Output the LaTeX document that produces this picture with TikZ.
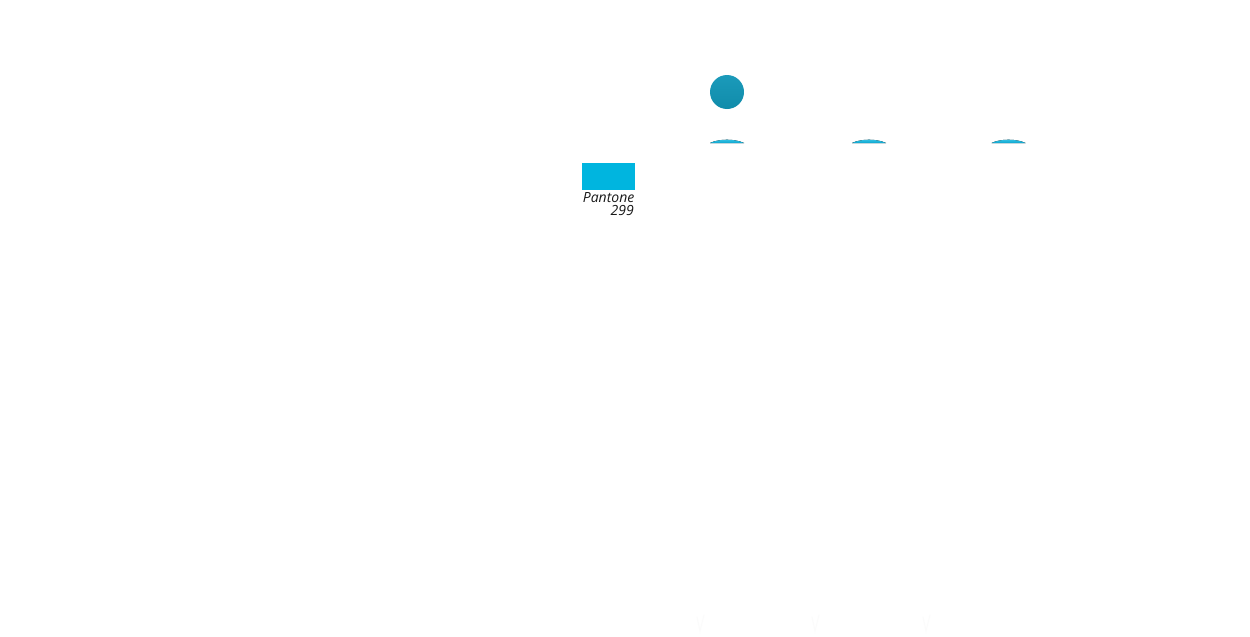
\documentclass[tikz,border=0pt]{standalone}
\usepackage{fontspec}
\setmainfont{Open Sans}
\definecolor{balltop}{HTML}{1B9ABA}
\definecolor{ballbot}{HTML}{108CAA}
\definecolor{lenstop}{HTML}{3EC6E8}
\definecolor{lensbot}{HTML}{0AA6CF}
\definecolor{pantone}{HTML}{00B5DF}
\definecolor{ghost}{HTML}{FBFBFB}
\tikzset{
  ball/.style={circle, minimum size=34pt, inner sep=0pt, top color=balltop, bottom color=ballbot, draw=none},
  lens/.style={top color=lenstop, bottom color=lensbot, draw=none},
  swatch/.style={fill=pantone, draw=none},
  lbl/.style={font=\fontsize{14}{16}\selectfont\itshape, inner sep=0pt, text=black!90},
  ghostmark/.style={draw=ghost, line width=1pt, line cap=round}
}
\begin{document}
\begin{tikzpicture}[x=1pt,y=-1pt]
\useasboundingbox[fill=white] (0,0) rectangle (1250,637);
% ball
\node[ball] (b) at (727,92) {};
% lenses
\foreach \cx/\nm in {727/l1, 869/l2, 1008.5/l3}{
  \fill[lens] (\cx-17,143) .. controls (\cx-8,138.6) and (\cx+8,138.6) .. (\cx+17,143) -- cycle;
  \coordinate (\nm) at (\cx,141);
}
% swatch
\fill[swatch] (582,163) rectangle (634.5,189.5);
\node[lbl, anchor=base east] (p1) at (634.5,202) {Pantone};
\node[lbl, anchor=base east] (p2) at (634,215) {299};
% faint marks at bottom
\foreach \cx in {701,816,927}{
  \draw[ghostmark] (\cx-4,617) -- (\cx-1,631) -- (\cx+3,615);
}
\end{tikzpicture}
\end{document}
